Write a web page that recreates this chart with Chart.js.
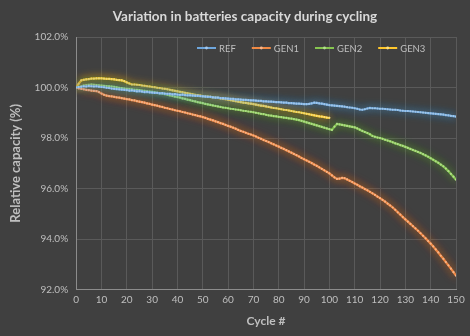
<!DOCTYPE html>
<html>
<head>
<meta charset="utf-8">
<script src="https://cdn.jsdelivr.net/npm/chart.js"></script>
<style>
	html, body { margin: 0; padding: 0; background: #404040; }
	#wrap { width: 470px; height: 336px; }
</style>
</head>
<body>
<div id="wrap"><canvas id="capChart" width="470" height="336"></canvas></div>
<script>
// values, one per cycle
const seriesNames = ["REF", "GEN1", "GEN2", "GEN3"];

const refCap = [
	100.00, 100.02, 100.03, 100.05, 100.04, 100.06, 100.05, 100.04, 100.05, 100.03,
	100.02, 100.01, 99.99, 99.98, 99.96, 99.95, 99.94, 99.93, 99.92, 99.91,
	99.90, 99.88, 99.89, 99.87, 99.85, 99.86, 99.84, 99.82, 99.83, 99.81,
	99.80, 99.79, 99.79, 99.77, 99.78, 99.76, 99.75, 99.75, 99.73, 99.74,
	99.72, 99.71, 99.72, 99.70, 99.69, 99.69, 99.68, 99.67, 99.67, 99.66,
	99.65, 99.64, 99.63, 99.63, 99.61, 99.60, 99.60, 99.58, 99.58, 99.57,
	99.56, 99.55, 99.55, 99.53, 99.53, 99.52, 99.51, 99.51, 99.50, 99.49,
	99.49, 99.48, 99.47, 99.47, 99.45, 99.45, 99.44, 99.44, 99.43, 99.42,
	99.42, 99.41, 99.40, 99.40, 99.38, 99.38, 99.37, 99.36, 99.36, 99.35,
	99.34, 99.34, 99.35, 99.37, 99.40, 99.39, 99.37, 99.36, 99.34, 99.32,
	99.30, 99.29, 99.28, 99.27, 99.26, 99.25, 99.24, 99.22, 99.21, 99.20,
	99.18, 99.16, 99.13, 99.12, 99.14, 99.17, 99.19, 99.18, 99.18, 99.17,
	99.16, 99.16, 99.15, 99.14, 99.13, 99.12, 99.12, 99.11, 99.09, 99.08,
	99.07, 99.07, 99.06, 99.05, 99.04, 99.03, 99.02, 99.01, 99.00, 98.99,
	98.98, 98.97, 98.96, 98.95, 98.94, 98.93, 98.91, 98.90, 98.88, 98.87,
	98.85
];

const gen1Cap = [
	100.00, 99.97, 99.95, 99.93, 99.91, 99.90, 99.88, 99.87, 99.86, 99.82,
	99.76, 99.71, 99.68, 99.66, 99.65, 99.63, 99.61, 99.60, 99.58, 99.56,
	99.54, 99.53, 99.50, 99.49, 99.46, 99.44, 99.42, 99.40, 99.37, 99.35,
	99.32, 99.30, 99.28, 99.25, 99.23, 99.20, 99.18, 99.15, 99.13, 99.10,
	99.08, 99.06, 99.03, 99.01, 98.98, 98.96, 98.93, 98.91, 98.88, 98.86,
	98.83, 98.80, 98.76, 98.73, 98.70, 98.66, 98.63, 98.59, 98.56, 98.52,
	98.48, 98.45, 98.41, 98.37, 98.32, 98.28, 98.25, 98.21, 98.17, 98.14,
	98.10, 98.06, 98.01, 97.97, 97.92, 97.88, 97.84, 97.79, 97.75, 97.70,
	97.66, 97.61, 97.57, 97.52, 97.47, 97.42, 97.37, 97.32, 97.27, 97.21,
	97.16, 97.11, 97.06, 97.01, 96.95, 96.90, 96.84, 96.78, 96.72, 96.66,
	96.60, 96.52, 96.44, 96.38, 96.39, 96.42, 96.41, 96.36, 96.31, 96.26,
	96.20, 96.15, 96.09, 96.04, 95.98, 95.93, 95.87, 95.81, 95.75, 95.68,
	95.62, 95.55, 95.48, 95.40, 95.33, 95.25, 95.16, 95.06, 94.97, 94.87,
	94.78, 94.69, 94.60, 94.51, 94.42, 94.33, 94.23, 94.13, 94.03, 93.92,
	93.82, 93.71, 93.59, 93.47, 93.34, 93.22, 93.09, 92.96, 92.83, 92.69,
	92.55
];

const gen2Cap = [
	100.00, 100.03, 100.05, 100.08, 100.10, 100.11, 100.12, 100.11, 100.10, 100.09,
	100.08, 100.07, 100.06, 100.05, 100.04, 100.03, 100.01, 99.99, 99.98, 99.96,
	99.95, 99.94, 99.93, 99.91, 99.91, 99.90, 99.88, 99.87, 99.85, 99.84,
	99.83, 99.81, 99.79, 99.78, 99.76, 99.74, 99.72, 99.69, 99.67, 99.64,
	99.62, 99.60, 99.57, 99.55, 99.52, 99.50, 99.47, 99.45, 99.42, 99.40,
	99.38, 99.35, 99.33, 99.31, 99.29, 99.27, 99.25, 99.23, 99.21, 99.20,
	99.18, 99.16, 99.15, 99.13, 99.12, 99.10, 99.08, 99.07, 99.05, 99.04,
	99.02, 99.00, 98.98, 98.96, 98.95, 98.92, 98.90, 98.89, 98.87, 98.86,
	98.84, 98.83, 98.81, 98.80, 98.78, 98.77, 98.75, 98.73, 98.71, 98.68,
	98.65, 98.62, 98.59, 98.56, 98.53, 98.50, 98.47, 98.44, 98.41, 98.38,
	98.35, 98.32, 98.45, 98.56, 98.54, 98.52, 98.50, 98.48, 98.46, 98.44,
	98.42, 98.38, 98.33, 98.28, 98.24, 98.20, 98.15, 98.08, 98.05, 98.02,
	98.00, 97.97, 97.93, 97.90, 97.87, 97.83, 97.79, 97.76, 97.72, 97.69,
	97.65, 97.61, 97.57, 97.53, 97.49, 97.45, 97.41, 97.36, 97.31, 97.26,
	97.20, 97.14, 97.08, 97.02, 96.95, 96.88, 96.79, 96.69, 96.58, 96.47,
	96.35
];

const gen3Cap = [
	100.00, 100.15, 100.28, 100.30, 100.32, 100.33, 100.35, 100.35, 100.36, 100.36,
	100.36, 100.35, 100.34, 100.34, 100.33, 100.32, 100.30, 100.29, 100.28, 100.25,
	100.20, 100.16, 100.12, 100.12, 100.11, 100.10, 100.08, 100.07, 100.05, 100.04,
	100.02, 100.01, 99.99, 99.98, 99.96, 99.95, 99.93, 99.91, 99.89, 99.87,
	99.85, 99.83, 99.81, 99.79, 99.77, 99.75, 99.73, 99.71, 99.70, 99.68,
	99.66, 99.65, 99.64, 99.63, 99.61, 99.60, 99.59, 99.57, 99.55, 99.54,
	99.52, 99.50, 99.48, 99.46, 99.44, 99.42, 99.40, 99.39, 99.37, 99.36,
	99.34, 99.32, 99.30, 99.28, 99.27, 99.25, 99.23, 99.21, 99.19, 99.18,
	99.16, 99.14, 99.12, 99.11, 99.09, 99.07, 99.05, 99.03, 99.02, 99.00,
	98.98, 98.96, 98.94, 98.92, 98.90, 98.88, 98.86, 98.85, 98.83, 98.81,
	98.80
];

const yTicks = [92, 94, 96, 98, 100, 102];
const xTicks = [0, 10, 20, 30, 40, 50, 60, 70, 80, 90, 100, 110, 120, 130, 140, 150];

const lineColors = ["#6ea6dc", "#f08a45", "#86c550", "#ffc72c"];
const glowColors = ["rgba(91,155,213,0.85)", "rgba(237,125,49,0.85)", "rgba(112,173,71,0.85)", "rgba(255,192,0,0.85)"];
const dotColors = ["#a6c9ec", "#f8b68a", "#b4de8e", "#ffe285"];

const chartTitle = "Variation in batteries capacity during cycling";
const fontFamily = "Lato, 'Open Sans', sans-serif";

function toPoints(arr) {
	return arr.map((v, i) => ({ x: i, y: v }));
}

const allSeries = [refCap, gen1Cap, gen2Cap, gen3Cap];

// Excel style soft glow round each line
const glowPlugin = {
	id: "glow",
	beforeDatasetDraw(chart, args) {
		const ctx = chart.ctx;
		ctx.save();
		ctx.shadowColor = glowColors[args.index];
		ctx.shadowBlur = 8;
	},
	afterDatasetDraw(chart) {
		chart.ctx.restore();
	},
};

// title over the canvas and the legend row inside the plot, as in Excel
const headerPlugin = {
	id: "header",
	afterDraw(chart) {
		const ctx = chart.ctx;
		ctx.save();
		ctx.fillStyle = "#d9d9d9";
		ctx.font = "bold 13.5px " + fontFamily;
		ctx.textAlign = "center";
		ctx.textBaseline = "middle";
		ctx.fillText(chartTitle, 245, 17);

		ctx.font = "9.5px " + fontFamily;
		ctx.textAlign = "left";
		let x = 197;
		const y = 48;
		chart.data.datasets.forEach((ds, i) => {
			ctx.strokeStyle = lineColors[i];
			ctx.lineWidth = 2;
			ctx.beginPath();
			ctx.moveTo(x, y);
			ctx.lineTo(x + 19, y);
			ctx.stroke();
			ctx.fillStyle = dotColors[i];
			ctx.beginPath();
			ctx.arc(x + 9.5, y, 1.4, 0, Math.PI * 2);
			ctx.fill();
			ctx.fillStyle = "#bfbfbf";
			ctx.fillText(ds.label, x + 22, y + 0.5);
			x += 22 + ctx.measureText(ds.label).width + 16;
		});
		ctx.restore();
	},
};

const tickFont = { family: fontFamily, size: 10 };
const titleFont = { family: fontFamily, size: 12, weight: "bold" };

const ctx = document.getElementById("capChart").getContext("2d");
const chart = new Chart(ctx, {
	type: "line",
	data: {
		datasets: allSeries.map((arr, i) => ({
			label: seriesNames[i],
			data: toPoints(arr),
			borderColor: lineColors[i],
			backgroundColor: lineColors[i],
			borderWidth: 2.2,
			pointRadius: 1.1,
			pointBackgroundColor: dotColors[i],
			pointBorderWidth: 0,
			pointHoverRadius: 2,
			tension: 0,
		})),
	},
	plugins: [glowPlugin, headerPlugin],
	options: {
		responsive: false,
		animation: false,
		layout: { padding: { left: 8, right: 14, top: 37, bottom: 8 } },
		plugins: {
			title: { display: false },
			legend: { display: false },
			tooltip: { enabled: false },
		},
		scales: {
			x: {
				type: "linear",
				min: 0,
				max: 150,
				afterBuildTicks(scale) {
					scale.ticks = xTicks.map((v) => ({ value: v }));
				},
				ticks: { color: "#bfbfbf", font: tickFont, padding: 4, maxRotation: 0 },
				grid: { color: "#5a5a5a", drawTicks: false },
				border: { color: "#8c8c8c" },
				title: { display: true, text: "Cycle #", color: "#bfbfbf", font: titleFont, padding: { top: 4, bottom: 0 } },
			},
			y: {
				min: 92,
				max: 102,
				afterBuildTicks(scale) {
					scale.ticks = yTicks.map((v) => ({ value: v }));
				},
				ticks: {
					color: "#bfbfbf",
					font: tickFont,
					padding: 8,
					callback: (v) => v.toFixed(1) + "%",
				},
				grid: { color: "#5a5a5a", drawTicks: false },
				border: { color: "#8c8c8c" },
				title: { display: true, text: "Relative capacity (%)", color: "#bfbfbf", font: { family: fontFamily, size: 13, weight: "bold" }, padding: { top: 0, bottom: 3 } },
			},
		},
	},
});
</script>
</body>
</html>
